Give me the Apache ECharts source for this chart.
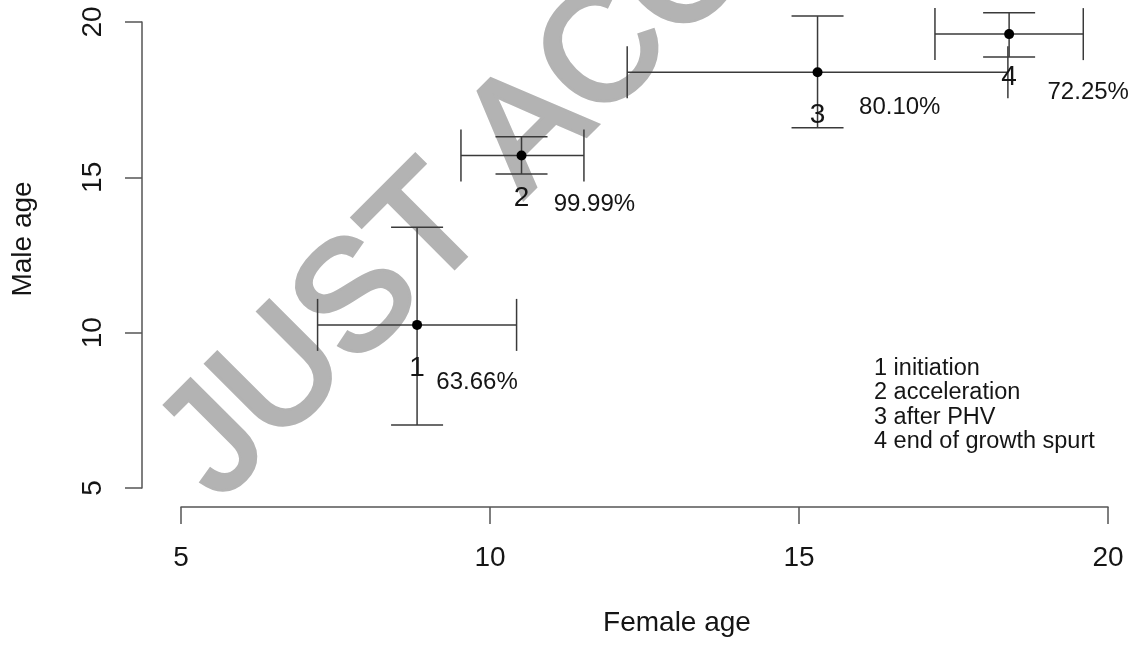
<!DOCTYPE html>
<html>
<head>
<meta charset="utf-8">
<script src="https://cdn.jsdelivr.net/npm/echarts@6/dist/echarts.min.js"></script>
<style>
html,body{margin:0;padding:0;background:#fff;}
#chart{width:1131px;height:646px;}
</style>
</head>
<body>
<div id="chart"></div>
<script>
// ---- data ----
const stageIds = ['1', '2', '3', '4'];
const femaleAge = [8.82, 10.51, 15.30, 18.40];
const maleAge = [10.25, 15.70, 18.38, 19.61];
const femaleLow = [7.21, 9.53, 12.22, 17.20];
const femaleHigh = [10.43, 11.52, 18.38, 19.60];
const maleLow = [7.03, 15.11, 16.60, 18.87];
const maleHigh = [13.39, 16.31, 20.19, 20.30];
const pctLabels = ['63.66%', '99.99%', '80.10%', '72.25%'];
const pctX = [9.79, 11.69, 16.63, 19.68];
const pctY = [8.41, 14.14, 17.25, 17.75];
const legendLines = ['1 initiation', '2 acceleration', '3 after PHV', '4 end of growth spurt'];
const axisMin = 5, axisMax = 20, axisStep = 5;
const xTitle = 'Female age';
const yTitle = 'Male age';
const watermark = 'JUST ACCEPTED';

const FONT = '"Liberation Sans", Arial, Helvetica, sans-serif';
const TEXT = '#151515';
const chart = echarts.init(document.getElementById('chart'), null, {renderer: 'canvas'});

const errData = femaleAge.map((x, i) => [x, maleAge[i], femaleLow[i], femaleHigh[i], maleLow[i], maleHigh[i], pctX[i], pctY[i]]);
const CAP = 26;
const lineStyle = {stroke: '#3a3a3a', lineWidth: 1.5};

function renderErr(params, api) {
  const i = params.dataIndex;
  const c = api.coord([api.value(0), api.value(1)]);
  const xl = api.coord([api.value(2), api.value(1)]);
  const xh = api.coord([api.value(3), api.value(1)]);
  const yl = api.coord([api.value(0), api.value(4)]);
  const yh = api.coord([api.value(0), api.value(5)]);
  const pc = api.coord([api.value(6), api.value(7)]);
  const L = (x1, y1, x2, y2) => ({type: 'line', shape: {x1, y1, x2, y2}, style: lineStyle});
  return {
    type: 'group',
    children: [
      L(xl[0], c[1], xh[0], c[1]),
      L(xl[0], c[1] - CAP, xl[0], c[1] + CAP),
      L(xh[0], c[1] - CAP, xh[0], c[1] + CAP),
      L(c[0], yl[1], c[0], yh[1]),
      L(c[0] - CAP, yl[1], c[0] + CAP, yl[1]),
      L(c[0] - CAP, yh[1], c[0] + CAP, yh[1]),
      {type: 'circle', shape: {cx: c[0], cy: c[1], r: 5}, style: {fill: '#000'}},
      {type: 'text', x: c[0], y: c[1] + 43,
       style: {text: stageIds[i], font: '28px ' + FONT, fill: TEXT, align: 'center', verticalAlign: 'middle'}},
      {type: 'text', x: pc[0], y: pc[1],
       style: {text: pctLabels[i], font: '24px ' + FONT, fill: TEXT, align: 'center', verticalAlign: 'middle'}}
    ]
  };
}

const axisCommon = {
  type: 'value', min: axisMin, max: axisMax, interval: axisStep,
  splitLine: {show: false},
  axisLine: {show: true, lineStyle: {color: '#555', width: 1.5}},
  axisTick: {show: true, inside: false, length: 17, lineStyle: {color: '#555', width: 1.5}},
};

chart.setOption({
  animation: false,
  backgroundColor: '#fff',
  grid: {left: 181, right: 23, top: 22, bottom: 158, containLabel: false},
  xAxis: Object.assign({}, axisCommon, {
    offset: 19,
    axisLabel: {fontFamily: FONT, fontSize: 28, color: TEXT, margin: 37, showMinLabel: true, showMaxLabel: true}
  }),
  yAxis: Object.assign({}, axisCommon, {
    offset: 39,
    axisLabel: {fontFamily: FONT, fontSize: 28, color: TEXT, margin: 35, rotate: 90, showMinLabel: true, showMaxLabel: true}
  }),
  graphic: [
    {
      type: 'text', z: -10, x: 189, y: 472, rotation: Math.PI / 4,
      style: {text: watermark, font: '155px ' + FONT, fill: '#b3b3b3', stroke: '#b3b3b3', lineWidth: 5,
              align: 'left', verticalAlign: 'middle'}
    },
    {
      type: 'text', x: 677, y: 623,
      style: {text: xTitle, font: '28px ' + FONT, fill: TEXT, align: 'center', verticalAlign: 'middle'}
    },
    {
      type: 'text', x: 23, y: 239, rotation: Math.PI / 2,
      style: {text: yTitle, font: '28px ' + FONT, fill: TEXT, align: 'center', verticalAlign: 'middle'}
    },
    {
      type: 'text', x: 874, y: 356,
      style: {text: legendLines.join('\n'), font: '23.5px ' + FONT, fill: TEXT, align: 'left', verticalAlign: 'top', lineHeight: 24.5}
    }
  ],
  series: [
    {
      type: 'custom', renderItem: renderErr, data: errData, clip: false, z: 2,
      encode: {x: 0, y: 1}
    }
  ]
});
</script>
</body>
</html>
